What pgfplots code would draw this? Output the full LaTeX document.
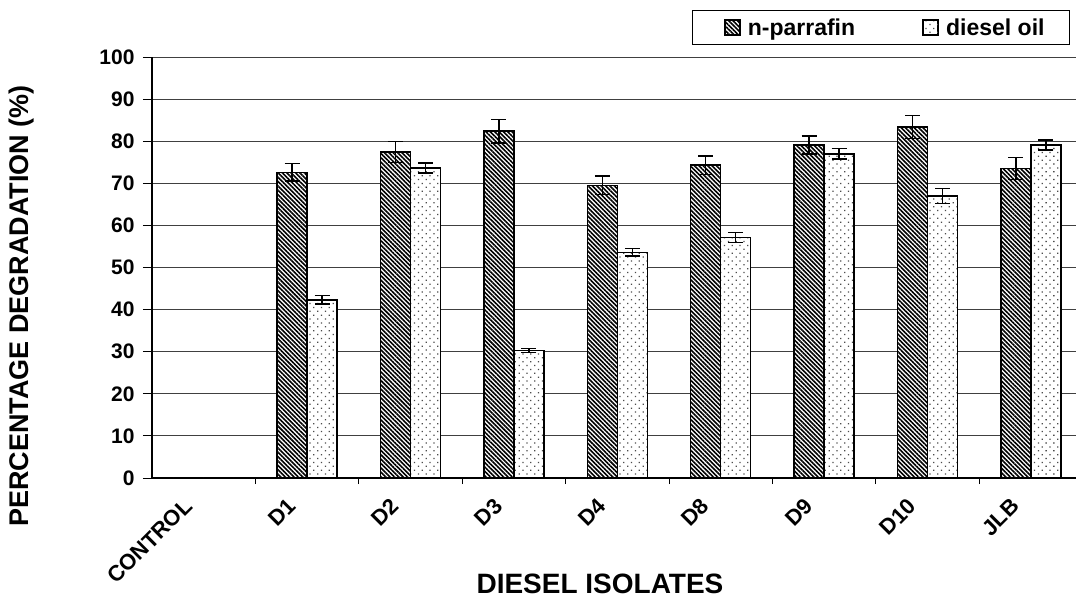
\documentclass[border=0pt]{standalone}
\usepackage{pgfplots}
\pgfplotsset{compat=1.18}
\usepackage{pgfplotstable}
\usepackage{fontspec}
\setmainfont{Liberation Sans}
\usetikzlibrary{patterns.meta}

\pgfplotstableread{
idx label n nerr d derr
0 CONTROL 0 0 0 0
1 D1 72.6 2.1 42.3 1.0
2 D2 77.4 2.5 73.6 1.2
3 D3 82.4 2.8 30.3 0.5
4 D4 69.5 2.2 53.6 0.9
5 D8 74.3 2.2 57.1 1.2
6 D9 79.1 2.1 77.0 1.2
7 D10 83.4 2.7 67.0 1.8
8 JLB 73.5 2.6 79.1 1.2
}\datatable

\pgfplotsset{mylegend/.style={legend image code/.code={\pgfpathmoveto{\pgfpoint{-20bp}{0bp}}\pgfpathlineto{\pgfpoint{21bp}{0bp}}\pgfusepath{discard}\draw[##1,line width=0.8bp] (0bp,-7.5bp) rectangle (15bp,7.5bp);}}}

\begin{document}
\begin{tikzpicture}
\begin{axis}[
  at={(152bp,120bp)}, anchor=south west,
  scale only axis, width=924bp, height=421bp,
  xmin=-0.5, xmax=8.436, ymin=0, ymax=100,
  ybar=0pt, bar width=0.29,
  axis x line*=bottom, axis y line*=left,
  axis line style={line width=1.2bp, black},
  ytick={0,10,...,100},
  xtick={0,...,8},
  xticklabels={CONTROL,D1,D2,D3,D4,D8,D9,D10,JLB},
  minor xtick={0.5,1.5,...,7.5},
  major x tick style={draw=none},
  tick align=outside,
  major tick length=9bp, minor tick length=6bp,
  tick style={black, line width=0.9bp},
  ymajorgrids, grid style={black!75, line width=0.9bp},
  /pgf/number format/assume math mode=true,
  yticklabel style={font=\fontsize{21bp}{24bp}\selectfont\bfseries, xshift=-5bp},
  xticklabel style={font=\fontsize{22bp}{26bp}\selectfont\bfseries, xshift=-13bp, yshift=-13bp, rotate=45, anchor=east},
  xlabel={DIESEL ISOLATES},
  ylabel={PERCENTAGE DEGRADATION (\%)},
  xlabel style={font=\fontsize{28bp}{32bp}\selectfont\bfseries, at={(axis description cs:0.4848,-0.251)}, anchor=center},
  ylabel style={font=\fontsize{27bp}{30bp}\selectfont\bfseries, at={(axis description cs:-0.1407,0.4086)}, anchor=center},
  legend style={at={(0.9935,1.1116)}, anchor=north east, legend columns=2, draw=black, line width=0.9bp,
    inner xsep=12bp, inner ysep=6bp,
    font=\fontsize{23bp}{26bp}\selectfont\bfseries,
    /tikz/every even column/.append style={column sep=46bp}},
  every axis plot post/.append style={mylegend},
]
\addplot[draw=black, line width=1.4bp, preaction={fill=white},
  pattern={Lines[angle=-45,distance=3.1pt,line width=1.6pt]}, pattern color=black,
  error bars/.cd, y dir=both, y explicit,
  error bar style={line width=1.4bp, black},
  error mark options={rotate=90, mark size=7.5bp, line width=1.4bp, black}]
  table[x=idx, y=n, y error=nerr] {\datatable};
\addplot[draw=black, line width=1.4bp, preaction={fill=white},
  pattern={Dots[distance=5.5pt,radius=0.9pt,angle=45]}, pattern color=black!70,
  error bars/.cd, y dir=both, y explicit,
  error bar style={line width=1.4bp, black},
  error mark options={rotate=90, mark size=7.5bp, line width=1.4bp, black}]
  table[x=idx, y=d, y error=derr] {\datatable};
\legend{n-parrafin, diesel oil\rule{11bp}{0pt}}
\end{axis}
\pgfresetboundingbox
\path[use as bounding box] (0,0) rectangle (1076bp,598bp);
\end{tikzpicture}
\end{document}
